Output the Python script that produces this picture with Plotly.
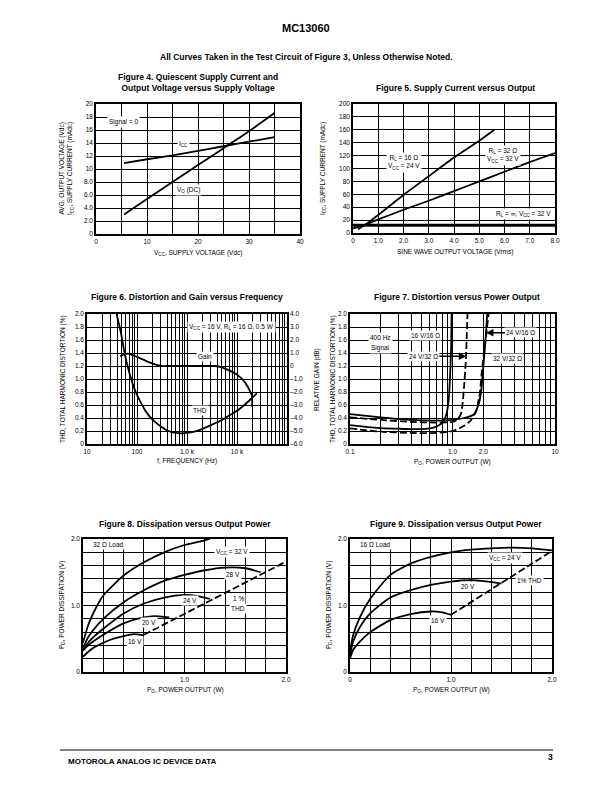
import plotly.graph_objects as go

# page geometry: the html body has an 8 px margin, so the figure is drawn 8 px in
PAGE_W, PAGE_H = 612, 792
OFF = 8
W, H = PAGE_W - 2 * OFF, PAGE_H - 2 * OFF
FONT = "Liberation Sans, Arial, Helvetica, sans-serif"


def px(x):
    return (x - OFF) / W


def py(y):
    return 1 - (y - OFF) / H


# ---------------- data ----------------
# Figure 4
f4_vcc = [5.5, 10, 15, 20, 25, 30, 35]
f4_icc = [10.9, 11.5, 12.1, 12.8, 13.5, 14.2, 14.9]
f4_vo = [3.0, 5.4, 8.0, 10.6, 13.2, 15.8, 18.6]
f4_xticks = [0, 10, 20, 30, 40]
f4_xtext = ["0", "10", "20", "30", "40"]
f4_xminor = [5, 15, 25, 35]
f4_yticks = [0, 2, 4, 6, 8, 10, 12, 14, 16, 18, 20]
f4_ytext = ["0", "2.0", "4.0", "6.0", "8.0", "10", "12", "14", "16", "18", "20"]

# Figure 5
f5_x16 = [0.2, 0.5, 1.0, 2.0, 3.0, 4.0, 5.0, 5.6]
f5_y16 = [6, 13, 28, 59, 88, 117, 143, 160]
f5_x32 = [0, 0.5, 1.0, 2.0, 3.0, 4.0, 5.0, 6.0, 7.0, 8.0]
f5_y32 = [7, 13, 21, 36, 50, 65, 80, 95, 110, 124]
f5_xinf = [0, 8]
f5_yinf = [12, 12]
f5_xticks = [0, 1, 2, 3, 4, 5, 6, 7, 8]
f5_xtext = ["0", "1.0", "2.0", "3.0", "4.0", "5.0", "6.0", "7.0", "8.0"]
f5_yticks = [0, 20, 40, 60, 80, 100, 120, 140, 160, 180, 200]
f5_ytext = [str(v) for v in f5_yticks]

# Figure 6
f6_thd_f = [39, 48, 57, 70, 91, 115, 145, 180, 229, 300, 423, 600, 800, 1000,
            1400, 2000, 3000, 5000, 7000, 10000, 15000, 20000, 25000]
f6_thd = [2.0, 1.7, 1.38, 1.1, 0.83, 0.66, 0.52, 0.42, 0.34, 0.27, 0.2, 0.17,
          0.165, 0.17, 0.19, 0.23, 0.29, 0.37, 0.44, 0.51, 0.62, 0.71, 0.78]
f6_gain_f = [46, 55, 65, 100, 150, 220, 310, 400, 1000, 3600, 5000, 6700, 8500,
             10600, 13000, 15600, 18000, 19700, 20100, 20200]
f6_gain = [0.75, 0.9, 0.95, 0.7, 0.4, 0.15, 0.0, 0.0, 0.0, 0.0, -0.1, -0.31, -0.5,
           -0.74, -1.05, -1.46, -1.9, -2.23, -2.7, -3.13]
f6_xticks = [10, 100, 1000, 10000]
f6_xtext = ["10", "100", "1.0 k", "10 k"]
f6_xminor = [m * 10 ** d for d in range(1, 5) for m in range(2, 10)] + [100000]
thd_ticks = [0, 0.2, 0.4, 0.6, 0.8, 1.0, 1.2, 1.4, 1.6, 1.8, 2.0]
thd_text = ["0", "0.2", "0.4", "0.6", "0.8", "1.0", "1.2", "1.4", "1.6", "1.8", "2.0"]
f6_gticks = [-6, -5, -4, -3, -2, -1, 0, 1, 2, 3, 4]
f6_gtext = ["\u20136.0", "\u20135.0", "\u20134.0", "\u20133.0", "\u20132.0", "\u20131.0",
            "0", "1.0", "2.0", "3.0", "4.0"]

# Figure 7
f7_p_16_16 = [0.1, 0.15, 0.2, 0.3, 0.45, 0.6, 0.7, 0.8, 0.87, 0.92, 0.95, 0.97, 0.98]
f7_t_16_16 = [0.29, 0.26, 0.245, 0.235, 0.23, 0.24, 0.27, 0.33, 0.45, 0.7, 1.1, 1.5, 2.0]
f7_p_24_32 = [0.1, 0.2, 0.4, 0.7, 1.0, 1.1, 1.2, 1.25, 1.3, 1.35, 1.38, 1.4]
f7_t_24_32 = [0.41, 0.37, 0.34, 0.33, 0.34, 0.37, 0.45, 0.6, 0.9, 1.3, 1.7, 2.0]
f7_p_24_16 = [0.1, 0.2, 0.4, 0.7, 1.0, 1.3, 1.6, 1.79, 1.9, 2.0, 2.1, 2.18]
f7_t_24_16 = [0.46, 0.41, 0.37, 0.36, 0.37, 0.4, 0.45, 0.6, 0.8, 1.2, 1.6, 2.0]
f7_p_32_32 = [0.1, 0.2, 0.4, 0.7, 1.0, 1.3, 1.5, 1.7, 1.85, 1.94, 2.1, 2.25]
f7_t_32_32 = [0.24, 0.19, 0.17, 0.17, 0.2, 0.28, 0.36, 0.5, 0.8, 1.14, 1.6, 2.0]
f7_xticks = [0.1, 1, 2, 10]
f7_xtext = ["0.1", "1.0", "2.0", "10"]
f7_xminor = [round(m * 10 ** d, 3) for d in (-1, 0) for m in range(2, 10)] + [1]

# Figure 8
f8_x32 = [0, 0.05, 0.1, 0.2, 0.4, 0.6, 0.8, 1.0, 1.2, 1.25]
f8_y32 = [0.44, 0.7, 0.88, 1.15, 1.45, 1.65, 1.8, 1.91, 1.98, 2.0]
f8_x28 = [0, 0.05, 0.1, 0.2, 0.4, 0.6, 0.8, 1.0, 1.2, 1.4, 1.6, 1.75]
f8_y28 = [0.36, 0.52, 0.63, 0.8, 1.05, 1.23, 1.37, 1.46, 1.53, 1.57, 1.56, 1.5]
f8_x24 = [0, 0.05, 0.1, 0.2, 0.4, 0.6, 0.8, 1.0, 1.1, 1.25]
f8_y24 = [0.33, 0.44, 0.52, 0.65, 0.88, 1.03, 1.12, 1.16, 1.15, 1.1]
f8_x20 = [0, 0.05, 0.1, 0.2, 0.4, 0.6, 0.7, 0.85]
f8_y20 = [0.32, 0.4, 0.46, 0.56, 0.73, 0.82, 0.84, 0.82]
f8_x16 = [0, 0.05, 0.1, 0.2, 0.3, 0.4, 0.5, 0.6]
f8_y16 = [0.23, 0.3, 0.36, 0.44, 0.5, 0.54, 0.57, 0.55]
f8_xthd = [0.6, 2.0]
f8_ythd = [0.56, 1.66]

# Figure 9
f9_x24 = [0, 0.03, 0.1, 0.2, 0.4, 0.6, 0.8, 1.0, 1.2, 1.4, 1.6, 1.8, 2.0]
f9_y24 = [0.3, 0.55, 0.83, 1.1, 1.46, 1.63, 1.73, 1.8, 1.84, 1.86, 1.87, 1.86, 1.83]
f9_x20 = [0, 0.03, 0.1, 0.2, 0.4, 0.6, 0.8, 1.0, 1.2, 1.3, 1.5]
f9_y20 = [0.25, 0.45, 0.68, 0.88, 1.12, 1.23, 1.31, 1.36, 1.38, 1.37, 1.33]
f9_x16 = [0, 0.03, 0.1, 0.2, 0.4, 0.6, 0.8, 0.9, 1.0]
f9_y16 = [0.2, 0.33, 0.46, 0.6, 0.78, 0.87, 0.91, 0.9, 0.86]
f9_xthd = [1.0, 2.0]
f9_ythd = [0.86, 1.82]

pd_minor = [0.2, 0.4, 0.6, 0.8, 1.2, 1.4, 1.6, 1.8]
f8_xticks, f8_xtext = [1.0, 2.0], ["1.0", "2.0"]
f9_xticks, f9_xtext = [0, 1.0, 2.0], ["0", "1.0", "2.0"]
pd_yticks, pd_ytext = [0, 1.0, 2.0], ["0", "1.0", "2.0"]

# ---------------- figure ----------------
fig = go.Figure()
LW = 1.8


def line(x, y, xa, ya, dash="solid", width=LW):
    fig.add_trace(go.Scatter(x=x, y=y, xaxis=xa, yaxis=ya, mode="lines",
                             line=dict(color="black", width=width, dash=dash,
                                       shape="spline", smoothing=0.6),
                             hoverinfo="skip", showlegend=False))


DASH = "7px,3px"
line(f4_vcc, f4_icc, "x", "y")
line(f4_vcc, f4_vo, "x", "y")
line(f5_x16, f5_y16, "x2", "y2")
line(f5_x32, f5_y32, "x2", "y2")
line(f5_xinf, f5_yinf, "x2", "y2", width=3)
line(f6_thd_f, f6_thd, "x3", "y3")
line(f6_gain_f, f6_gain, "x3", "y4")
line(f7_p_16_16, f7_t_16_16, "x5", "y5")
line(f7_p_24_32, f7_t_24_32, "x5", "y5", dash=DASH)
line(f7_p_24_16, f7_t_24_16, "x5", "y5")
line(f7_p_32_32, f7_t_32_32, "x5", "y5", dash=DASH)
for xs, ys in [(f8_x32, f8_y32), (f8_x28, f8_y28), (f8_x24, f8_y24),
               (f8_x20, f8_y20), (f8_x16, f8_y16)]:
    line(xs, ys, "x6", "y6")
line(f8_xthd, f8_ythd, "x6", "y6", dash=DASH)
for xs, ys in [(f9_x24, f9_y24), (f9_x20, f9_y20), (f9_x16, f9_y16)]:
    line(xs, ys, "x7", "y7")
line(f9_xthd, f9_ythd, "x7", "y7", dash=DASH)

TICKF = dict(family=FONT, size=6.5, color="black")


def ax(domain, rng, tickvals, ticktext, anchor, typ="linear", side=None, overlay=None,
       grid=True, minor=None):
    d = dict(domain=domain, range=rng, type=typ, tickmode="array", tickvals=tickvals,
             ticktext=ticktext, showgrid=grid, gridcolor="black", gridwidth=1,
             showline=True, linecolor="black", linewidth=1.5, mirror=True,
             ticks="", zeroline=False, tickfont=TICKF, anchor=anchor, fixedrange=True,
             automargin=False)
    if minor:
        d["minor"] = dict(tickmode="array", tickvals=minor, showgrid=True,
                          gridcolor="black", gridwidth=1, ticks="")
    if side:
        d["side"] = side
    if overlay:
        d["overlaying"] = overlay
    return d


layout = dict(width=W, height=H, autosize=False, margin=dict(l=0, r=0, t=0, b=0, pad=0),
              paper_bgcolor="white", plot_bgcolor="white", showlegend=False,
              template="none", font=dict(family=FONT, color="black"))

layout["xaxis"] = ax([px(96), px(300)], [0, 40], f4_xticks, f4_xtext, "y", minor=f4_xminor)
layout["yaxis"] = ax([py(234), py(104)], [0, 20], f4_yticks, f4_ytext, "x")
layout["xaxis2"] = ax([px(353), px(555)], [0, 8], f5_xticks, f5_xtext, "y2")
layout["yaxis2"] = ax([py(233), py(104)], [0, 200], f5_yticks, f5_ytext, "x2")
layout["xaxis3"] = ax([px(87), px(287)], [1, 5], f6_xticks, f6_xtext, "y3", typ="log",
                      minor=f6_xminor)
layout["yaxis3"] = ax([py(444), py(314)], [0, 2], thd_ticks, thd_text, "x3")
layout["yaxis4"] = ax([py(444), py(314)], [-6, 4], f6_gticks, f6_gtext, "x3",
                      side="right", overlay="y3", grid=False)
layout["xaxis5"] = ax([px(350), px(555)], [-1, 1], f7_xticks, f7_xtext, "y5", typ="log",
                      minor=f7_xminor)
layout["yaxis5"] = ax([py(444), py(314)], [0, 2], thd_ticks, thd_text, "x5")
layout["xaxis6"] = ax([px(83), px(286)], [0, 2], f8_xticks, f8_xtext, "y6", minor=pd_minor)
layout["yaxis6"] = ax([py(672), py(539)], [0, 2], pd_yticks, pd_ytext, "x6", minor=pd_minor)
layout["xaxis7"] = ax([px(350), px(552)], [0, 2], f9_xticks, f9_xtext, "y7", minor=pd_minor)
layout["yaxis7"] = ax([py(672), py(539)], [0, 2], pd_yticks, pd_ytext, "x7", minor=pd_minor)

fig.update_layout(**layout)

ann = []


def ptext(x, y, text, size=6.5, bold=False, angle=0, xanchor="center"):
    if bold:
        text = "<b>" + text + "</b>"
    ann.append(dict(xref="paper", yref="paper", x=px(x), y=py(y), text=text,
                    showarrow=False, textangle=angle, xanchor=xanchor, yanchor="middle",
                    font=dict(family=FONT, size=size, color="black")))


def dtext(xa, ya, x, y, text, bg=True, size=6.5):
    d = dict(xref=xa, yref=ya, x=x, y=y, text=text, showarrow=False,
             font=dict(family=FONT, size=size, color="black"), borderpad=1)
    if bg:
        d["bgcolor"] = "white"
    ann.append(d)


ptext(306, 28, "MC13060", size=11, bold=True)
ptext(306, 57, "All Curves Taken in the Test Circuit of Figure 3, Unless Otherwise Noted.",
      size=8.5, bold=True)
ptext(66, 761, "MOTOROLA ANALOG IC DEVICE DATA", size=8, bold=True, xanchor="left")
ptext(550, 757, "3", size=8.5, bold=True)

ptext(198, 82.5, "Figure 4. Quiescent Supply Current and<br>Output Voltage versus Supply Voltage",
      size=8.5, bold=True)
ptext(455, 88, "Figure 5. Supply Current versus Output", size=8.5, bold=True)
ptext(187, 297, "Figure 6. Distortion and Gain versus Frequency", size=8.5, bold=True)
ptext(457, 297, "Figure 7. Distortion versus Power Output", size=8.5, bold=True)
ptext(185, 524, "Figure 8. Dissipation versus Output Power", size=8.5, bold=True)
ptext(456, 524, "Figure 9. Dissipation versus Output Power", size=8.5, bold=True)

ptext(66, 169, "AVG. OUTPUT VOLTAGE (Vdc)<br>I<sub>CC</sub>, SUPPLY CURRENT (mAdc)", angle=-90)
ptext(198, 253, "V<sub>CC</sub>, SUPPLY VOLTAGE (Vdc)")
ptext(323, 169, "I<sub>CC</sub>, SUPPLY CURRENT (mAdc)", angle=-90)
ptext(455, 252, "SINE WAVE OUTPUT VOLTAGE (Vrms)")
ptext(63, 379, "THD, TOTAL HARMONIC DISTORTION (%)", angle=-90)
ptext(317, 379, "RELATIVE GAIN (dB)", angle=-90)
ptext(187, 461, "f, FREQUENCY (Hz)")
ptext(333, 379, "THD, TOTAL HARMONIC DISTORTION (%)", angle=-90)
ptext(452, 462, "P<sub>O</sub>, POWER OUTPUT (W)")
ptext(62, 605, "P<sub>D</sub>, POWER DISSIPATION (V)", angle=-90)
ptext(185, 690, "P<sub>O</sub>, POWER OUTPUT (W)")
ptext(329, 605, "P<sub>D</sub>, POWER DISSIPATION (V)", angle=-90)
ptext(451, 690, "P<sub>O</sub>, POWER OUTPUT (W)")

dtext("x", "y", 5.4, 17.3, "Signal = 0")
dtext("x", "y", 17.1, 13.9, "I<sub>CC</sub>")
dtext("x", "y", 18.1, 6.8, "V<sub>O</sub> (DC)")
dtext("x2", "y2", 2.0, 110, "R<sub>L</sub> = 16 Ω<br>V<sub>CC</sub> = 24 V")
dtext("x2", "y2", 5.95, 120, "R<sub>L</sub> = 32 Ω<br>V<sub>CC</sub> = 32 V")
dtext("x2", "y2", 6.75, 29, "R<sub>L</sub> = ∞, V<sub>CC</sub> = 32 V")
dtext("x3", "y3", 3.88, 1.8, "V<sub>CC</sub> = 16 V, R<sub>L</sub> = 16 Ω, 0.5 W")
dtext("x3", "y3", 3.36, 1.35, "Gain")
dtext("x3", "y3", 3.26, 0.51, "THD")
dtext("x5", "y5", -0.707, 1.64, "400 Hz")
dtext("x5", "y5", -0.707, 1.47, "Signal")
dtext("x5", "y5", -0.268, 1.67, "16 V/16 Ω")
dtext("x5", "y5", 0.541, 1.32, "32 V/32 Ω")
for x, y, t, axp in [(0.134, 1.35, "24 V/32 Ω", -43), (0.326, 1.71, "24 V/16 Ω", 35)]:
    ann.append(dict(xref="x5", yref="y5", x=x, y=y, text=t, showarrow=True,
                    ax=axp, ay=0, arrowhead=2, arrowsize=1, arrowwidth=1.5,
                    arrowcolor="black", bgcolor="white", borderpad=1,
                    font=dict(family=FONT, size=6.5, color="black")))
dtext("x6", "y6", 0.25, 1.92, "32 Ω Load")
dtext("x6", "y6", 1.47, 1.81, "V<sub>CC</sub> = 32 V")
dtext("x6", "y6", 1.48, 1.47, "28 V")
dtext("x6", "y6", 1.05, 1.08, "24 V")
dtext("x6", "y6", 0.65, 0.74, "20 V")
dtext("x6", "y6", 0.51, 0.46, "16 V")
dtext("x6", "y6", 1.53, 1.1, "1 %")
dtext("x6", "y6", 1.53, 0.95, "THD")
dtext("x7", "y7", 0.25, 1.92, "16 Ω Load")
dtext("x7", "y7", 1.53, 1.72, "V<sub>CC</sub> = 24 V")
dtext("x7", "y7", 1.17, 1.28, "20 V")
dtext("x7", "y7", 0.87, 0.78, "16 V")
dtext("x7", "y7", 1.78, 1.38, "1% THD")

fig.update_layout(annotations=ann,
                  shapes=[dict(type="line", xref="paper", yref="paper",
                               x0=px(60), x1=px(553), y0=py(750), y1=py(750),
                               line=dict(color="black", width=1))])

fig.write_html("out.html")
